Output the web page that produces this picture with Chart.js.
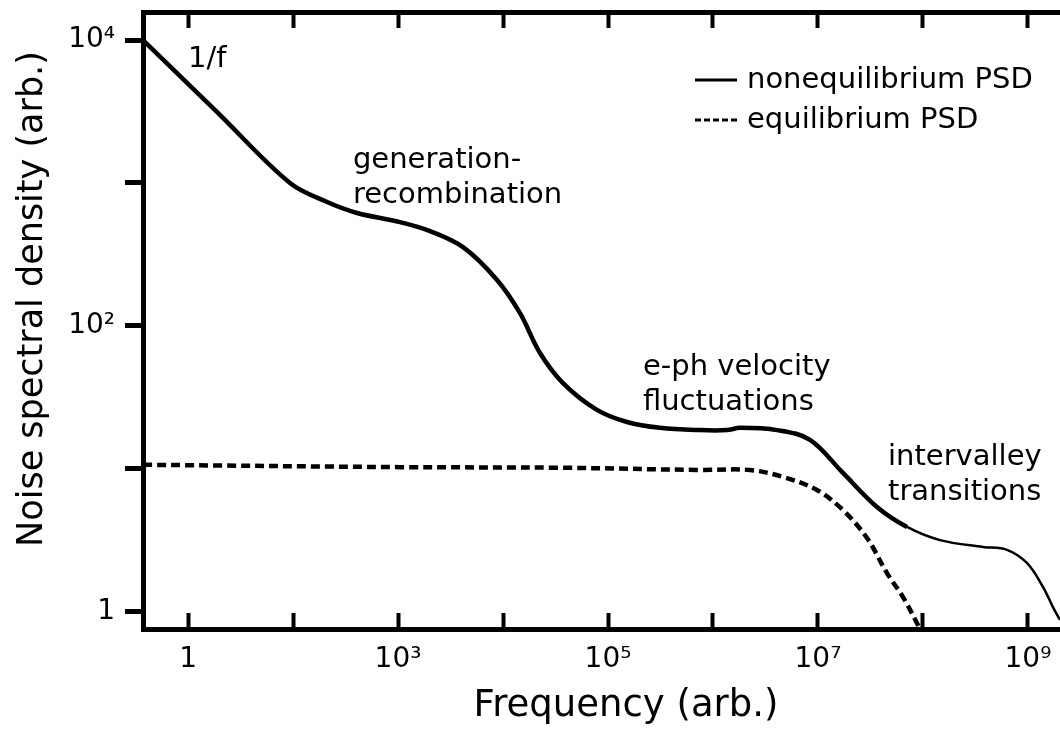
<!DOCTYPE html>
<html>
<head>
<meta charset="utf-8">
<title>Noise spectral density</title>
<script src="https://cdn.jsdelivr.net/npm/chart.js@4.4.1/dist/chart.umd.min.js"></script>
<style>
  html, body { margin: 0; padding: 0; background: #fff; }
  #wrap { width: 1060px; height: 732px; position: relative; }
</style>
</head>
<body>
<div id="wrap"><canvas id="psdChart"></canvas></div>
<script>
// Nonequilibrium PSD (solid curve)
const noneqFreq = [3.72, 18.7, 93.5, 211, 407, 1045, 2018, 4159, 8770, 14520, 22490, 37240, 78520,
    151700, 312600, 751600, 1.358e6, 1.807e6, 4.074e6, 8.395e6, 1.730e7, 3.648e7, 7.047e7,
    1.452e8, 3.724e8, 6.310e8, 9.772e8, 1.390e9, 1.730e9, 2.018e9];
const noneqPsd = [10000, 3160, 1000, 736, 617, 533, 461, 356, 210, 123, 64.7, 39.9, 25.9,
    21.3, 19.4, 18.7, 18.7, 19.4, 18.7, 16.0, 9.38, 5.42, 3.93,
    3.18, 2.85, 2.72, 2.20, 1.50, 1.08, 0.88];

// Equilibrium PSD (dashed curve)
const eqFreq = [3.72, 1045, 34910, 751600, 2.249e6, 4.645e6, 9.772e6, 1.730e7, 2.931e7,
    4.539e7, 6.457e7, 8.954e7, 9.55e7];
const eqPsd = [10.7, 10.3, 10.2, 9.84, 9.84, 8.79, 7.13, 5.16, 3.29, 1.87, 1.27, 0.81, 0.72];

// Axes: decade ticks, only some of them labelled
const xTickValues = [1e1, 1e2, 1e3, 1e4, 1e5, 1e6, 1e7, 1e8, 1e9];
const xTickLabels = ['1', '', '10³', '', '10⁵', '', '10⁷', '', '10⁹'];
const yTickValues = [1, 1e1, 1e2, 1e3, 1e4];
const yTickLabels = ['1', '', '10²', '', '10⁴'];
const xRange = [3.72, 2.02e9];
const yRange = [0.76, 15700];

const seriesNames = ['nonequilibrium PSD', 'equilibrium PSD'];
const axisTitles = ['Frequency (arb.)', 'Noise spectral density (arb.)'];

// Region labels, anchored (left edge, first baseline) at a frequency / PSD point
const noteLines = [['1/f'], ['generation-', 'recombination'], ['e-ph velocity', 'fluctuations'], ['intervalley', 'transitions']];
const noteFreq = [10, 372, 215300, 4.65e7];
const notePsd = [6470, 1274, 45.4, 10.7];

const FONT = '"DejaVu Sans", Verdana, sans-serif';
Chart.defaults.font.family = FONT;
Chart.defaults.color = '#000';

// Draws the in-plot labels, the legend and the axis titles
const textPlugin = {
    id: 'psdText',
    afterDraw(chart) {
        const { ctx } = chart;
        const xs = chart.scales.x;
        const ys = chart.scales.y;
        ctx.save();
        ctx.fillStyle = '#000';
        ctx.strokeStyle = '#000';
        ctx.textAlign = 'left';
        ctx.textBaseline = 'alphabetic';
        ctx.font = '29px ' + FONT;

        noteLines.forEach((lines, i) => {
            const px = xs.getPixelForValue(noteFreq[i]);
            const py = ys.getPixelForValue(notePsd[i]);
            lines.forEach((t, j) => ctx.fillText(t, px, py + j * 35));
        });

        // legend, top right
        chart.data.datasets.forEach((ds, i) => {
            const ly = 80 + i * 40;
            ctx.beginPath();
            ctx.lineWidth = 3;
            ctx.setLineDash(i === 1 ? [6, 3] : []);
            ctx.moveTo(695, ly);
            ctx.lineTo(737, ly);
            ctx.stroke();
            ctx.setLineDash([]);
            ctx.fillText(ds.label, 747, ly + 8);
        });

        // axis titles
        ctx.textAlign = 'center';
        ctx.font = '37px ' + FONT;
        ctx.fillText(axisTitles[0], 626, 716);
        ctx.font = '35px ' + FONT;
        ctx.translate(42, 299);
        ctx.rotate(-Math.PI / 2);
        ctx.fillText(axisTitles[1], 0, 0);
        ctx.restore();
    }
};

const tickFont = { family: FONT, size: 28 };

// keep the plot frame where it is in the figure: no extra room for label overflow
function noPadding(axis) {
    axis.paddingLeft = 0;
    axis.paddingRight = 0;
    axis.paddingTop = 0;
    axis.paddingBottom = 0;
}

new Chart(document.getElementById('psdChart'), {
    type: 'line',
    data: {
        datasets: [
            {
                label: seriesNames[0],
                data: noneqFreq.map((f, i) => ({ x: f, y: noneqPsd[i] })),
                borderColor: '#000',
                borderWidth: 4.5,
                pointRadius: 0,
                tension: 0.35,
                segment: {
                    // the curve gets thinner past ~7e7
                    borderWidth: ctx => ctx.p0.parsed.x >= 7e7 ? 2.5 : 4.5
                }
            },
            {
                label: seriesNames[1],
                data: eqFreq.map((f, i) => ({ x: f, y: eqPsd[i] })),
                borderColor: '#000',
                borderWidth: 4.5,
                borderDash: [9, 5],
                pointRadius: 0,
                tension: 0.35
            }
        ]
    },
    options: {
        responsive: true,
        maintainAspectRatio: false,
        animation: false,
        layout: { autoPadding: false, padding: { top: 12, left: 0, right: 0, bottom: 0 } },
        plugins: {
            legend: { display: false },
            tooltip: { enabled: false }
        },
        scales: {
            x: {
                type: 'logarithmic',
                position: 'bottom',
                min: xRange[0],
                max: xRange[1],
                bounds: 'data',
                afterBuildTicks: axis => { axis.ticks = xTickValues.map(v => ({ value: v })); },
                afterFit: axis => { axis.height = 103; noPadding(axis); },
                ticks: {
                    autoSkip: false,
                    maxRotation: 0,
                    padding: 30,
                    color: '#000',
                    font: tickFont,
                    callback: (v, i) => xTickLabels[i]
                },
                grid: { drawOnChartArea: false, tickLength: -16, tickWidth: 4, tickColor: '#000' },
                border: { display: true, width: 5, color: '#000' }
            },
            x2: {
                type: 'logarithmic',
                position: 'top',
                min: xRange[0],
                max: xRange[1],
                bounds: 'data',
                afterBuildTicks: axis => { axis.ticks = xTickValues.map(v => ({ value: v })); },
                afterFit: axis => { axis.height = 0; noPadding(axis); },
                ticks: { display: false, autoSkip: false },
                grid: { drawOnChartArea: false, tickLength: -16, tickWidth: 4, tickColor: '#000' },
                border: { display: true, width: 5, color: '#000' }
            },
            y: {
                type: 'logarithmic',
                position: 'left',
                min: yRange[0],
                max: yRange[1],
                bounds: 'data',
                afterBuildTicks: axis => { axis.ticks = yTickValues.map(v => ({ value: v })); },
                afterFit: axis => { axis.width = 143; noPadding(axis); },
                ticks: {
                    autoSkip: false,
                    padding: 10,
                    color: '#000',
                    font: tickFont,
                    callback: (v, i) => yTickLabels[i]
                },
                grid: { drawOnChartArea: false, tickLength: 18, tickWidth: 5, tickColor: '#000' },
                border: { display: true, width: 5, color: '#000' }
            }
        }
    },
    plugins: [textPlugin]
});
</script>
</body>
</html>
